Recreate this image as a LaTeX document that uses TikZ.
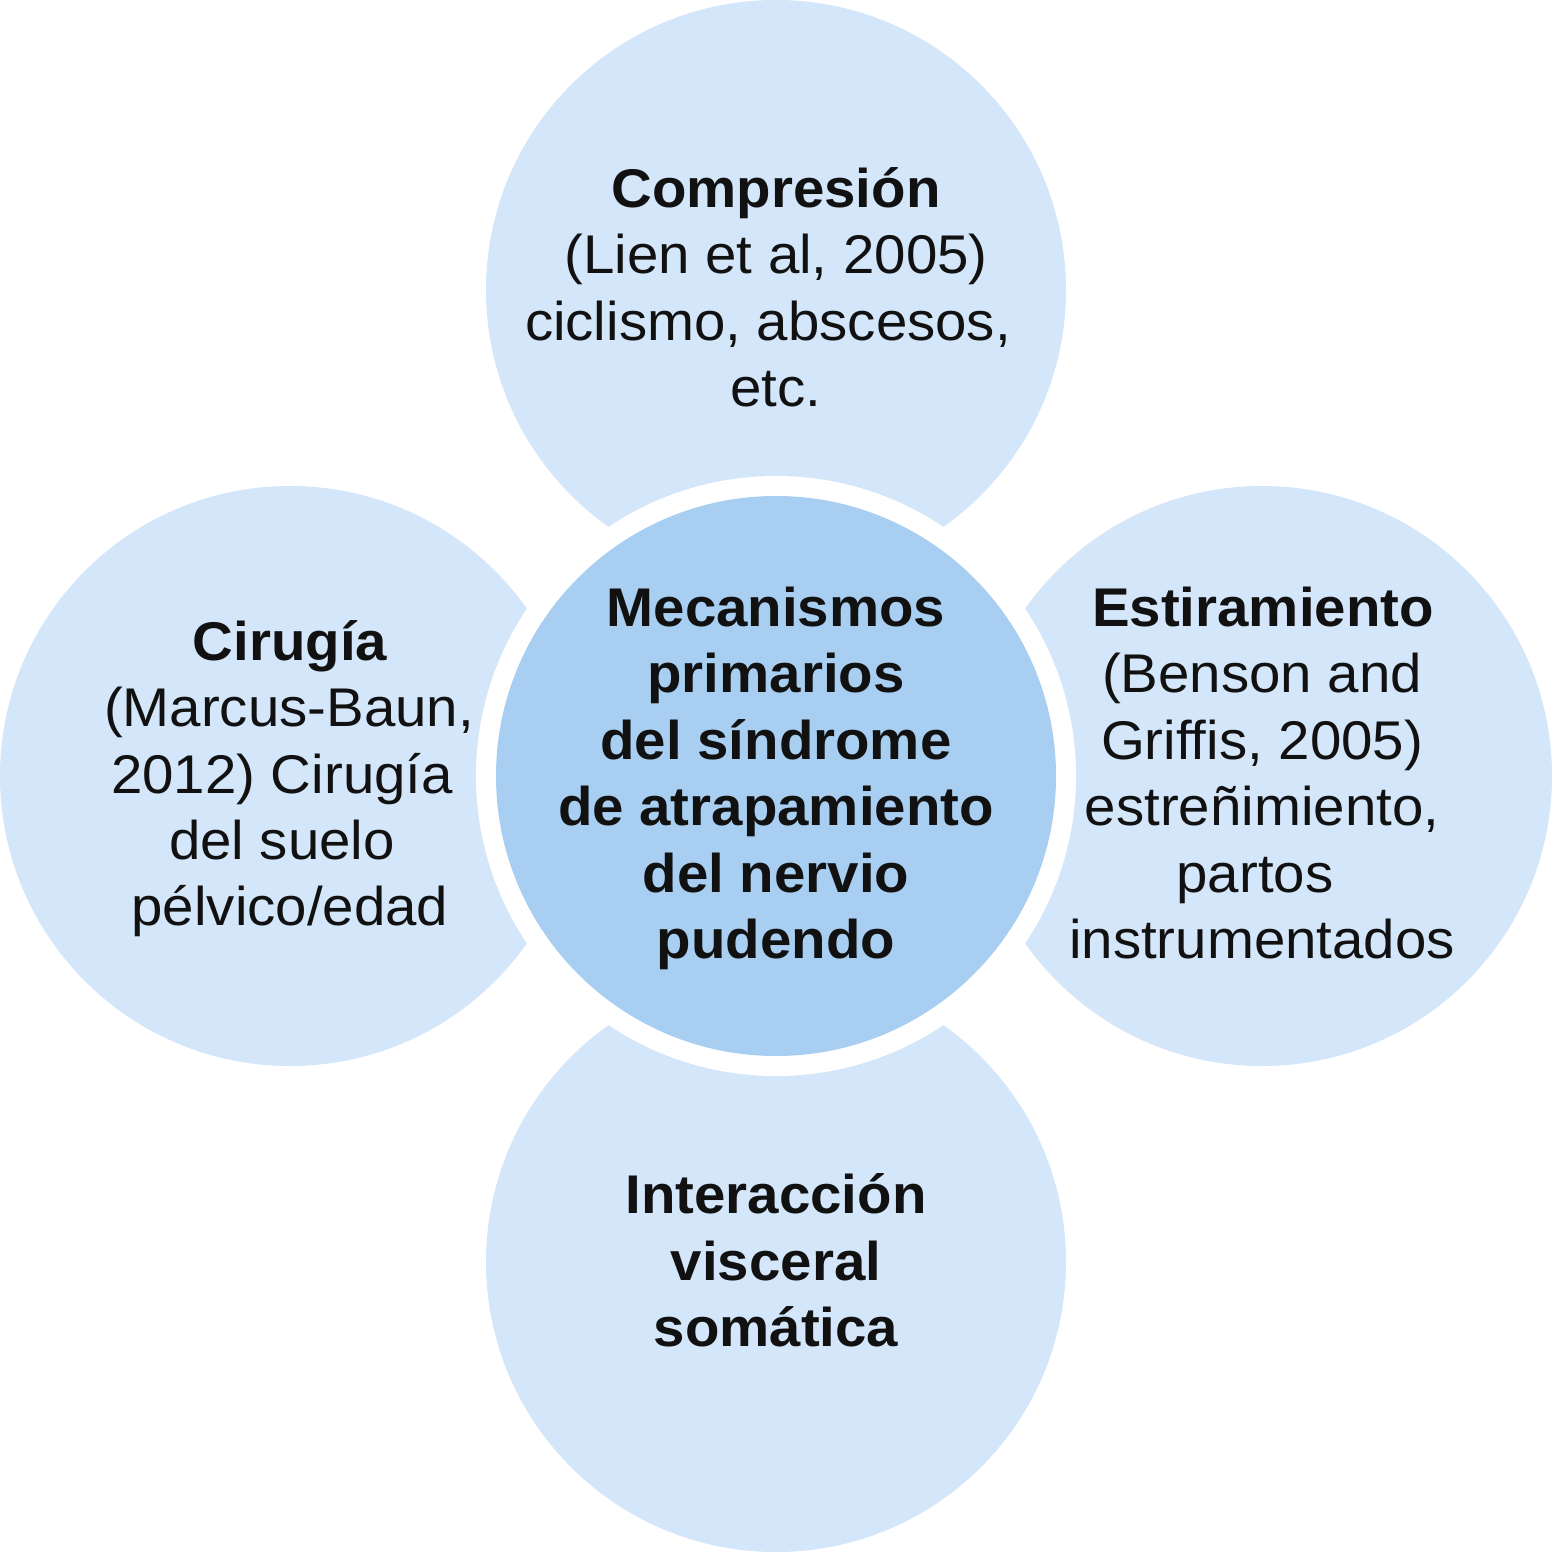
\documentclass[tikz,border=0pt]{standalone}
\usepackage{fontspec}
\setmainfont{Liberation Sans}[FakeStretch=1.035]
\definecolor{outerblue}{HTML}{D4E6F9}
\definecolor{innerblue}{HTML}{A8CEF1}
\definecolor{txt}{HTML}{111111}
\begin{document}
\begin{tikzpicture}[x=1pt,y=-1pt,
  outercirc/.style={circle,fill=outerblue,draw=none,minimum size=580pt,inner sep=0pt},
  ringcirc/.style={circle,fill=white,draw=none,minimum size=600pt,inner sep=0pt},
  innercirc/.style={circle,fill=innerblue,draw=none,minimum size=560pt,inner sep=0pt},
  ln/.style={anchor=base,inner sep=0pt,text=txt,font=\fontsize{54.5}{65}\selectfont},
  hd/.style={ln,font=\fontsize{54.5}{65}\selectfont\bfseries}]
\useasboundingbox (0,0) rectangle (1553,1552);
\fill[white] (0,0) rectangle (1553,1552);
\node[outercirc] (top) at (776,290) {};
\node[outercirc] (left) at (290,776) {};
\node[outercirc] (right) at (1262,776) {};
\node[outercirc] (bottom) at (776,1262) {};
\node[ringcirc] (ring) at (776,776) {};
\node[innercirc] (center) at (776,776) {};
% top
\node[hd] (t1) at (776,207) {Compresión};
\node[ln] (t2) at (776,273) {(Lien et al, 2005)};
\node[ln] (t3) at (768,340) {ciclismo, abscesos,};
\node[ln] (t4) at (776,406) {etc.};
% left
\node[hd] (l1) at (290,660) {Cirugía};
\node[ln] (l2) at (289,726) {(Marcus-Baun,};
\node[ln] (l3) at (282,793) {2012) Cirugía};
\node[ln] (l4) at (282,859) {del suelo};
\node[ln] (l5) at (290,925) {pélvico/edad};
% right
\node[hd] (r1) at (1263,626) {Estiramiento};
\node[ln] (r2) at (1262,692) {(Benson and};
\node[ln] (r3) at (1262,759) {Griffis, 2005)};
\node[ln] (r4) at (1262,825) {estreñimiento,};
\node[ln] (r5) at (1255,892) {partos};
\node[ln] (r6) at (1262,958) {instrumentados};
% center
\node[hd] (c1) at (776,626) {Mecanismos};
\node[hd] (c2) at (776,692) {primarios};
\node[hd] (c3) at (776,759) {del síndrome};
\node[hd] (c4) at (776,825) {de atrapamiento};
\node[hd] (c5) at (776,892) {del nervio};
\node[hd] (c6) at (776,958) {pudendo};
% bottom
\node[hd] (b1) at (776,1213) {Interacción};
\node[hd] (b2) at (776,1280) {visceral};
\node[hd] (b3) at (776,1346) {somática};
\end{tikzpicture}
\end{document}
